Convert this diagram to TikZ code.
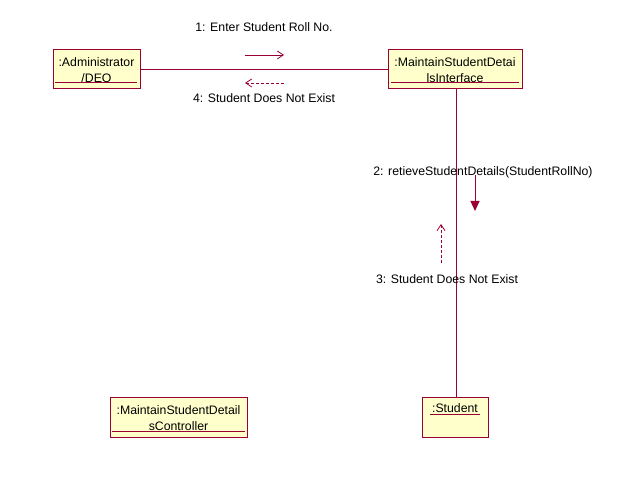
\documentclass[tikz,border=0pt]{standalone}
\usepackage{fontspec}
\setmainfont{Liberation Sans}
\usetikzlibrary{arrows.meta}
\definecolor{rose}{HTML}{990033}
\definecolor{objfill}{HTML}{FFFFCC}
\tikzset{
  obj/.style={draw=rose, fill=objfill, line width=1pt, inner sep=0pt, anchor=north west},
  lbl/.style={font=\fontsize{12.3}{14}\selectfont, inner sep=0pt, text=black},
  link/.style={draw=rose, line width=1pt},
  uline/.style={draw=rose, line width=1pt},
  msg/.style={draw=rose, line width=0.8pt, -{Straight Barb[length=6pt,width=8pt]}},
  ret/.style={draw=rose, line width=0.8pt, dash pattern=on 3pt off 2pt, -{Straight Barb[length=6pt,width=8pt]}},
  call/.style={draw=rose, line width=1pt, -{Triangle[length=10pt,width=9pt]}},
}
\begin{document}
\begin{tikzpicture}[x=1pt,y=-1pt]
\useasboundingbox (0,0) rectangle (622,478);
% objects
\node[obj, minimum width=87pt, minimum height=39pt] (admin) at (53,49) {};
\node[obj, minimum width=134pt, minimum height=39pt] (iface) at (388,49) {};
\node[obj, minimum width=137pt, minimum height=40pt] (ctrl) at (110,397) {};
\node[obj, minimum width=66pt, minimum height=40pt] (stud) at (422,397) {};
% links
\draw[link] (admin.east |- 0,70) -- (iface.west |- 0,70);
\draw[link] (iface.south -| 456,0) -- (stud.north -| 456,0);
% object labels
\node[lbl] (admin1) at (96.5,62) {:Administrator};
\node[lbl] (admin2) at (96.5,78) {/DEO};
\draw[uline] (55,83) -- (137,83);
\node[lbl] (iface1) at (455,62) {:MaintainStudentDetai};
\node[lbl] (iface2) at (455,78) {lsInterface};
\draw[uline] (391,83) -- (519,83);
\node[lbl] (ctrl1) at (178.5,410) {:MaintainStudentDetail};
\node[lbl] (ctrl2) at (178.5,426) {sController};
\draw[uline] (112,432) -- (245,432);
\node[lbl] (stud1) at (455,408) {:Student};
\draw[uline] (430,415) -- (480,415);
% messages
\coordinate (m1a) at (245,55); \coordinate (m1b) at (284,55);
\draw[msg] (m1a) -- (m1b);
\node[lbl] (t1) at (264,27) {1: Enter Student Roll No.};
\coordinate (m4a) at (284,83); \coordinate (m4b) at (245,83);
\draw[ret] (m4a) -- (m4b);
\node[lbl] (t4) at (264,98) {4: Student Does Not Exist};
\coordinate (m2a) at (475,175); \coordinate (m2b) at (475,211);
\draw[call] (m2a) -- (m2b);
\node[lbl] (t2) at (483,172) {2: retieveStudentDetails(StudentRollNo)};
\coordinate (m3a) at (441,263); \coordinate (m3b) at (441,224);
\draw[ret] (m3a) -- (m3b);
\node[lbl] (t3) at (447,279) {3: Student Does Not Exist};
\end{tikzpicture}
\end{document}
